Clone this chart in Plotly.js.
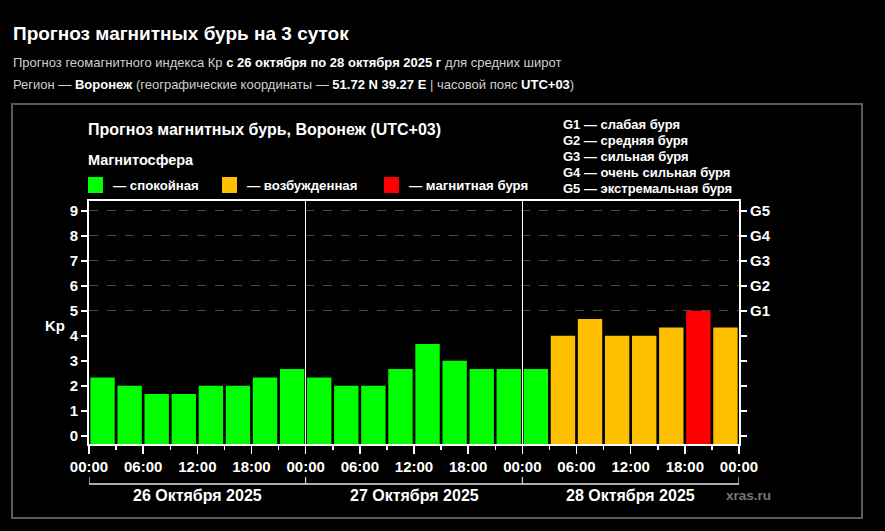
<!DOCTYPE html>
<html><head><meta charset="utf-8">
<script src="https://cdn.plot.ly/plotly-3.0.1.min.js"></script>
<style>html,body{margin:0;padding:0;background:#000;}#chart{width:885px;height:531px;}</style>
</head><body><div id="chart"></div>
<script>
// Data
const periodStarts = [
 '2025-10-26 00:00','2025-10-26 03:00','2025-10-26 06:00','2025-10-26 09:00','2025-10-26 12:00','2025-10-26 15:00','2025-10-26 18:00','2025-10-26 21:00',
 '2025-10-27 00:00','2025-10-27 03:00','2025-10-27 06:00','2025-10-27 09:00','2025-10-27 12:00','2025-10-27 15:00','2025-10-27 18:00','2025-10-27 21:00',
 '2025-10-28 00:00','2025-10-28 03:00','2025-10-28 06:00','2025-10-28 09:00','2025-10-28 12:00','2025-10-28 15:00','2025-10-28 18:00','2025-10-28 21:00'];
const kpValues = [2.33,2.0,1.67,1.67,2.0,2.0,2.33,2.67, 2.33,2.0,2.0,2.67,3.67,3.0,2.67,2.67, 2.67,4.0,4.67,4.0,4.0,4.33,5.0,4.33];
const dayStarts = ['2025-10-26 00:00','2025-10-27 00:00','2025-10-28 00:00','2025-10-29 00:00'];
const dayLabels = ['26 Октября 2025','27 Октября 2025','28 Октября 2025'];
const dayCenters = ['2025-10-26 12:00','2025-10-27 12:00','2025-10-28 12:00'];
const kpTicks = [0,1,2,3,4,5,6,7,8,9];
const gTickVals = [5,6,7,8,9];
const gTickText = ['G1','G2','G3','G4','G5'];
const gDescriptions = ['G1 — слабая буря','G2 — средняя буря','G3 — сильная буря','G4 — очень сильная буря','G5 — экстремальная буря'];
const legendNames = ['— спокойная','— возбужденная','— магнитная буря'];
const legendColors = ['#00ff00','#ffc000','#ff0000'];

const H3 = 3*3600*1000;
const Y_MIN = -0.33, Y_MAX = 9.39;
function colorFor(v){ return v >= 5 ? legendColors[2] : (v >= 4 ? legendColors[1] : legendColors[0]); }

const L=89, R=739, T=201, B=444;
const px = x => (x-L)/(R-L);
const py = y => (B-y)/(B-T);
const FONT = 'Liberation Sans, Arial, sans-serif';

// bars are drawn from the bottom of the axis (as in the original) up to the Kp value
const trace = {
  type:'bar', x: periodStarts, y: kpValues.map(v=>v-Y_MIN), base: Y_MIN, xperiod: H3, xperiodalignment:'middle',
  width: H3*0.9,
  marker:{color: kpValues.map(colorFor), line:{width:0}},
  hoverinfo:'skip'
};
const t2 = {type:'scatter', x:[dayStarts[0]], y:[0], xaxis:'x2', yaxis:'y2', mode:'markers', marker:{opacity:0}, hoverinfo:'skip'};
const t3 = {type:'scatter', x:[dayStarts[0]], y:[0], xaxis:'x', yaxis:'y3', mode:'markers', marker:{opacity:0}, hoverinfo:'skip'};

const annotations = [];
function txt(x,y,text,size,opts){ annotations.push(Object.assign({xref:'paper',yref:'paper',x:px(x),y:py(y),text:text,showarrow:false,xanchor:'left',yanchor:'middle',font:{family:FONT,size:size,color:'#fff'}},opts||{})); }

txt(11,34,'<b>Прогноз магнитных бурь на 3 суток</b>',19);
txt(11,62,'<span style="color:#d0d0d0">Прогноз геомагнитного индекса Кр </span><b>с 26 октября по 28 октября 2025 г</b><span style="color:#d0d0d0"> для средних широт</span>',13);
txt(11,84,'<span style="color:#d0d0d0">Регион — </span><b>Воронеж</b><span style="color:#d0d0d0"> (географические координаты — </span><b>51.72 N 39.27 E</b><span style="color:#d0d0d0"> | часовой пояс </span><b>UTC+03</b><span style="color:#d0d0d0">)</span>',13);
txt(86,129,'<b>Прогноз магнитных бурь, Воронеж (UTC+03)</b>',16);
txt(86,160,'<b>Магнитосфера</b>',14.5);
const legX = [88,222,384];
legendNames.forEach((n,i)=>txt(legX[i]+23,185,'<b>'+n+'</b>',13.2));
gDescriptions.forEach((d,i)=>txt(561,124+i*16.2,'<b>'+d+'</b>',13));
txt(43,325,'<b>Kp</b>',15);
dayLabels.forEach((d,i)=>annotations.push({xref:'x',yref:'paper',x:dayCenters[i],y:py(495),text:'<b>'+d+'</b>',showarrow:false,xanchor:'center',yanchor:'middle',font:{family:FONT,size:16,color:'#fff'}}));
txt(748,495,'<b>xras.ru</b>',13.5,{xanchor:'center',font:{family:FONT,size:13.5,color:'#777'}});

const shapes = [];
shapes.push({type:'rect',xref:'paper',yref:'paper',x0:px(12),x1:px(862),y0:py(104),y1:py(518),line:{color:'#5a5a5a',width:2}});
legendColors.forEach((c,i)=>shapes.push({type:'rect',xref:'paper',yref:'paper',x0:px(legX[i]),x1:px(legX[i]+15),y0:py(193),y1:py(177),fillcolor:c,line:{width:0}}));
for(let i=0;i<dayLabels.length;i++){
  shapes.push({type:'line',xref:'x',yref:'paper',x0:dayStarts[i],x1:dayStarts[i+1],y0:py(484),y1:py(484),line:{color:'#aaa',width:2}});
}
dayStarts.forEach(d=>shapes.push({type:'line',xref:'x',yref:'paper',x0:d,x1:d,y0:py(477),y1:py(484),line:{color:'#fff',width:1}}));

const layout = {
  width:885,height:531,
  paper_bgcolor:'#000',plot_bgcolor:'#000',
  margin:{l:L,r:885-R,t:T,b:531-B,pad:0},
  showlegend:false, bargap:0.1,
  font:{family:FONT,color:'#fff'},
  xaxis:{type:'date',range:[dayStarts[0],dayStarts[3]],tickformat:'%H:%M',dtick:6*3600*1000,tick0:dayStarts[0],
    ticks:'outside',ticklen:8,tickcolor:'#fff',tickwidth:1.5,showgrid:false,zeroline:false,
    showline:true,linecolor:'#fff',linewidth:2,mirror:true,
    tickfont:{family:FONT,size:15,color:'#fff',weight:'bold'},
    minor:{dtick:H3,ticks:'outside',ticklen:4,tickcolor:'#fff',tickwidth:1.5,showgrid:false}},
  xaxis2:{type:'date',overlaying:'x',range:[dayStarts[0],dayStarts[3]],tickvals:[dayStarts[1],dayStarts[2]],showticklabels:false,ticks:'',
    showgrid:true,gridcolor:'#fff',gridwidth:1.5,zeroline:false,showline:false},
  yaxis:{range:[Y_MIN,Y_MAX],tickvals:kpTicks,ticks:'outside',ticklen:6,tickcolor:'#fff',tickwidth:1.5,showgrid:false,zeroline:false,
    showline:true,linecolor:'#fff',linewidth:2,
    tickfont:{family:FONT,size:15,color:'#fff',weight:'bold'}},
  yaxis2:{range:[Y_MIN,Y_MAX],overlaying:'y',side:'right',tickvals:kpTicks,ticktext:kpTicks.map(k=>{const j=gTickVals.indexOf(k);return j>=0?gTickText[j]:'';}),
    ticks:'outside',ticklen:6,tickcolor:'#fff',tickwidth:1.5,showgrid:false,zeroline:false,showline:true,linecolor:'#fff',linewidth:2,
    tickfont:{family:FONT,size:15,color:'#fff',weight:'bold'}},
  yaxis3:{range:[Y_MIN,Y_MAX],overlaying:'y',tickvals:gTickVals,showticklabels:false,ticks:'',showgrid:true,gridcolor:'#4a4a4a',griddash:'dash',gridwidth:1,zeroline:false,showline:false},
  annotations:annotations, shapes:shapes
};
Plotly.newPlot('chart',[t3,t2,trace],layout,{staticPlot:true,displayModeBar:false});
</script></body></html>
